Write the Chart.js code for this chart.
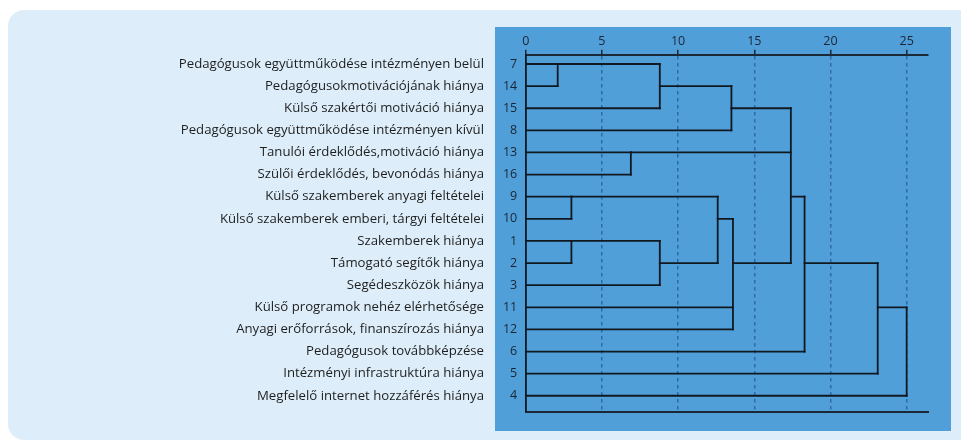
<!DOCTYPE html>
<html>
<head>
<meta charset="utf-8">
<script src="https://cdn.jsdelivr.net/npm/chart.js@4.4.0/dist/chart.umd.min.js"></script>
<style>
    html, body { margin: 0; padding: 0; background: #ffffff; }
    canvas { display: block; }
</style>
</head>
<body>
<canvas id="dendroChart" width="961" height="442"></canvas>
<script>
// Leaves, top to bottom
const leafIds = [7, 14, 15, 8, 13, 16, 9, 10, 1, 2, 3, 11, 12, 6, 5, 4];
const leafLabels = [
    'Pedagógusok együttműködése intézményen belül',
    'Pedagógusokmotivációjának hiánya',
    'Külső szakértői motiváció hiánya',
    'Pedagógusok együttműködése intézményen kívül',
    'Tanulói érdeklődés,motiváció hiánya',
    'Szülői érdeklődés, bevonódás hiánya',
    'Külső szakemberek anyagi feltételei',
    'Külső szakemberek emberi, tárgyi feltételei',
    'Szakemberek hiánya',
    'Támogató segítők hiánya',
    'Segédeszközök hiánya',
    'Külső programok nehéz elérhetősége',
    'Anyagi erőforrások, finanszírozás hiánya',
    'Pedagógusok továbbképzése',
    'Intézményi infrastruktúra hiánya',
    'Megfelelő internet hozzáférés hiánya'
];

// Merges: children are leaf indexes 0-15 or merge indexes 16+
const mergeChildren = [
    [0, 1], [16, 2], [17, 3], [4, 5], [6, 7], [8, 9], [21, 10],
    [20, 22], [23, 11, 12], [18, 19, 24], [25, 13], [26, 14], [27, 15]
];
const mergeHeights = [2.1, 8.8, 13.5, 6.9, 3.0, 3.0, 8.8, 12.6, 13.6, 17.4, 18.3, 23.1, 25.0];
const mergeRows = [0, 1, 2, 4, 6, 8, 9, 7, 9, 6, 9, 11, 13];

const xTicks = [0, 5, 10, 15, 20, 25];
const xMax = 26.4;

const lineColor = '#101820';

function nodeRow(i) {
    return i < leafIds.length ? i : mergeRows[i - leafIds.length];
}
function nodeHeight(i) {
    return i < leafIds.length ? 0 : mergeHeights[i - leafIds.length];
}

// Build line segments of the dendrogram
function buildSegments() {
    const segs = [];
    mergeChildren.forEach((children, k) => {
        const h = mergeHeights[k];
        const rows = children.map(nodeRow);
        // vertical link
        segs.push([{x: h, y: Math.min(...rows)}, {x: h, y: Math.max(...rows)}]);
        // horizontal branch of each child
        children.forEach(c => {
            segs.push([{x: nodeHeight(c), y: nodeRow(c)}, {x: h, y: nodeRow(c)}]);
        });
    });
    return segs.map(seg => ({
        data: seg,
        showLine: true,
        borderColor: lineColor,
        borderWidth: 1.8,
        borderCapStyle: 'square',
        pointRadius: 0,
        xAxisID: 'x',
        yAxisID: 'yNum'
    }));
}

// Panel backgrounds
const backgroundPlugin = {
    id: 'panels',
    beforeDraw(chart) {
        const ctx = chart.ctx;
        ctx.save();
        ctx.fillStyle = '#ddeefa';
        ctx.beginPath();
        ctx.roundRect(8, 10, 990, 430, 16);
        ctx.fill();
        ctx.fillStyle = '#519fd8';
        ctx.fillRect(495, 27, 456, 404);
        ctx.restore();
    }
};

// each axis needs its own tick objects
const rowTicks = () => leafIds.map((_, i) => ({ value: i }));

new Chart(document.getElementById('dendroChart'), {
    type: 'scatter',
    data: { datasets: buildSegments() },
    options: {
        responsive: false,
        animation: false,
        layout: { padding: { left: 0, right: 33, top: 27, bottom: 30.3 } },
        plugins: {
            legend: { display: false },
            tooltip: { enabled: false }
        },
        scales: {
            x: {
                type: 'linear',
                position: 'top',
                min: 0,
                max: xMax,
                afterBuildTicks: axis => { axis.ticks = xTicks.map(v => ({ value: v })); },
                afterFit: axis => { axis.height = 27.7; },
                ticks: {
                    includeBounds: false,
                    padding: 1,
                    color: '#1a2533',
                    font: { family: 'Open Sans', size: 12.5 }
                },
                grid: {
                    color: ctx => ctx.tick && ctx.tick.value === 0 ? 'rgba(0,0,0,0)' : '#2e6aa0',
                    lineWidth: 1.5,
                    tickLength: 5,
                    tickColor: '#1b2836',
                    tickWidth: 1.5,
                    tickBorderDash: []
                },
                border: { display: true, color: '#1b2836', width: 2, dash: [3.5, 3.5] }
            },
            xBottom: {
                type: 'linear',
                position: 'bottom',
                min: 0,
                max: xMax,
                afterFit: axis => { axis.height = 0; },
                ticks: { display: false },
                grid: { display: false, drawTicks: false },
                border: { display: true, color: '#1b2836', width: 2 }
            },
            yNum: {
                type: 'linear',
                position: 'left',
                weight: 0,
                reverse: true,
                min: -0.42,
                max: 15.72,
                afterBuildTicks: axis => { axis.ticks = rowTicks(); },
                afterFit: axis => { axis.width = 30.7; },
                ticks: {
                    autoSkip: false,
                    padding: 8.5,
                    color: '#1a2533',
                    font: { family: 'Open Sans', size: 12.5 },
                    callback: value => leafIds[value]
                },
                grid: { display: false, drawTicks: false },
                border: { display: true, color: lineColor, width: 1.8 }
            },
            yLab: {
                type: 'linear',
                position: 'left',
                weight: 1,
                reverse: true,
                min: -0.42,
                max: 15.72,
                afterBuildTicks: axis => { axis.ticks = rowTicks(); },
                afterFit: axis => { axis.width = 495; },
                ticks: {
                    autoSkip: false,
                    padding: 11,
                    color: '#1e1e1e',
                    font: { family: 'Open Sans', size: 13.2 },
                    callback: value => leafLabels[value]
                },
                grid: { display: false, drawTicks: false },
                border: { display: false }
            }
        }
    },
    plugins: [backgroundPlugin]
});
</script>
</body>
</html>
